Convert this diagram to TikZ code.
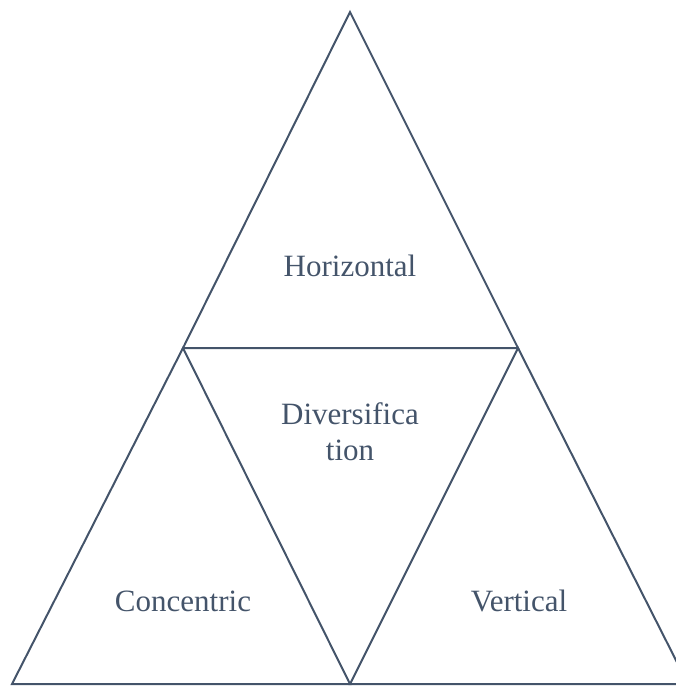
\documentclass[tikz,border=0pt]{standalone}
\usepackage{fontspec}
\setmainfont{Liberation Serif}
\usepackage{tikz}
\usetikzlibrary{positioning}
\definecolor{slate}{HTML}{44546A}

\begin{document}
\begin{tikzpicture}[x=1pt,y=-1pt,line join=miter]
	\useasboundingbox (0,0) rectangle (676,686);
	\tikzset{side/.style={draw=slate,line width=2pt},
		label/.style={text=slate,font=\fontsize{31}{36}\selectfont,align=center}}

	\coordinate (apex) at (350,12);
	\coordinate (ml) at (183,348);
	\coordinate (mr) at (518,348);
	\coordinate (bl) at (12,684);
	\coordinate (bm) at (350,684);
	\coordinate (br) at (688,684);

	\draw [side] (apex) -- (ml) -- (mr) -- cycle;
	\draw [side] (ml) -- (bl) -- (bm) -- cycle;
	\draw [side] (mr) -- (bm) -- (br) -- cycle;

	\node (horiz) at (350,266) [label] {Horizontal};
	\node (div) at (350,432) [label] {Diversifica\\tion};
	\node (conc) at (183,601) [label] {Concentric};
	\node (vert) at (519,601) [label] {Vertical};

\end{tikzpicture}
\end{document}
